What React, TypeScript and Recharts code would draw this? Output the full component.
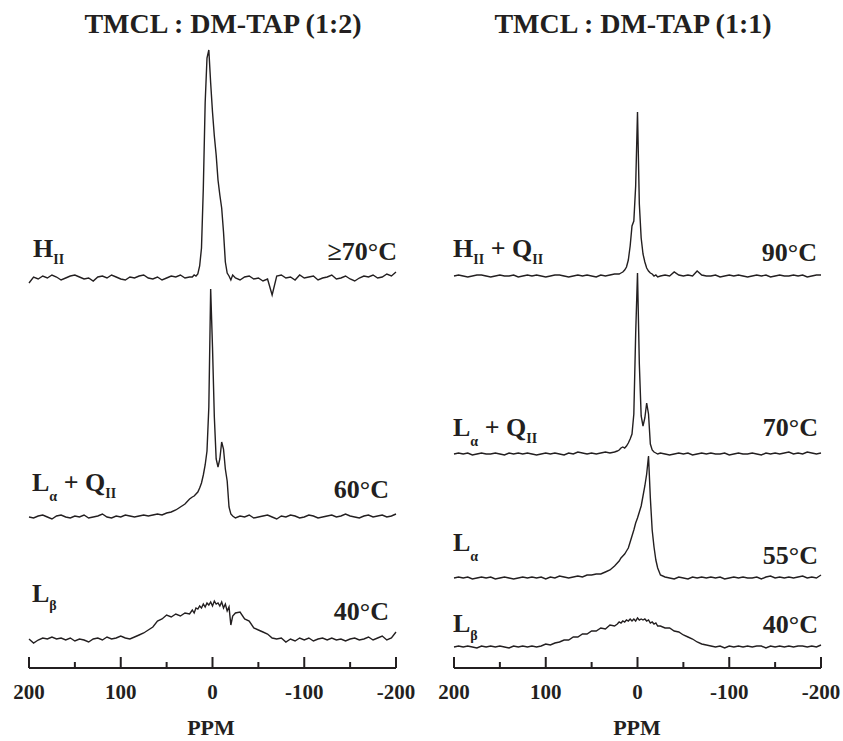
import { Line, LineChart, XAxis, YAxis } from 'recharts'

const INK = '#231f20'

// chemical shift grid (ppm), coarse on the wings, finer round the peaks
const PPM = [
  200, 195, 190, 185, 180, 175, 170, 165, 160, 155, 150, 145, 140, 135, 130, 125, 120, 115,
  110, 105, 100, 95, 90, 85, 80, 75, 70, 65, 60, 55, 50, 45, 40, 35, 30, 25,
  22, 20, 18, 16, 14, 12, 10, 8, 6, 4, 2, 0, -2, -4, -6, -8, -10, -12, -14, -16, -18, -20, -22,
  -25, -30, -35, -40, -45, -50, -55, -60, -65, -70, -75, -80, -85, -90, -95, -100, -105, -110,
  -115, -120, -125, -130, -135, -140, -145, -150, -155, -160, -165, -170, -175, -180, -185,
  -190, -195, -200,
]
const TICKS = [200, 150, 100, 50, 0, -50, -100, -150, -200]

// TMCL : DM-TAP (1:2)
const LEFT_70C = [
  -5, 1, -1, 2, 0, 3, 1, -2, 0, 2, 3, 1, -1, 0, -3, 1, 2, 0, 3, 1,
  -1, -2, 1, 0, 2, 3, 0, -1, 1, -2, 0, 2, 1, 3, 0, 1,
  1, 3, 2, 4, 12, 30, 90, 175, 220, 228, 195, 166, 142, 123, 98, 83, 70, 46, 16, 5, 2, -2, 3,
  0, -2, 1, 2, -1, 0, -3, -1, -17, 2, 3, 0, 1, -2, 3, 0, 1, 2, -2, 0,
  1, 3, -1, 0, 2, -1, -3, 0, 2, 1, 3, 0, 1, 4, 2, 6,
]
const LEFT_60C = [
  0, -1, 1, 2, 0, -2, 1, 2, 0, -1, 1, 0, 2, -1, 0, 1, 3, 0, -1, 1,
  0, 2, 1, 0, 1, 2, 1, 2, 3, 2, 4, 5, 7, 10, 13, 18,
  20, 21, 23, 25, 29, 34, 42, 52, 66, 110, 228, 170, 100, 58, 50, 58, 75, 68, 48, 36, 10, 3, 1,
  -1, 1, 0, 2, -1, 0, 1, 2, 0, -2, 1, 0, 2, 1, -1, 0, 2, 1, -1, 0,
  1, 2, 0, 1, 3, 1, 0, -1, 1, 2, 0, 1, 2, 0, 1, 3,
]
const LEFT_40C = [
  1, -3, 0, 2, 1, 3, 1, 2, 0, 2, -1, 1, 0, -2, 1, 2, 0, 3, 1, 2,
  4, 2, 1, 3, 5, 7, 10, 13, 19, 21, 25, 23, 26, 24, 27, 26,
  30, 27, 32, 31, 34, 32, 36, 33, 37, 35, 38, 34, 39, 36, 37, 34, 38, 32, 36, 29, 33, 15, 24,
  27, 28, 21, 19, 12, 10, 8, 6, 2, 1, 2, -2, 1, -1, 2, 0, 2, -1, 1, 2,
  0, 2, 0, 1, -1, 1, 2, 0, 1, 3, 0, 2, 4, 0, 2, 8,
]

// TMCL : DM-TAP (1:1)
const RIGHT_90C = [
  0, 1, 0, -1, 0, 1, 1, 0, -1, 0, 1, 0, 0, 1, -1, 0, 1, 0, 1, 0,
  -1, 0, 1, 1, 0, -1, 0, 1, 0, 1, 0, -1, 1, 0, 1, 2,
  2, 2, 3, 4, 6, 9, 16, 30, 50, 55, 90, 164, 72, 38, 22, 14, 8, 5, 3, 2, 0, 1, -1,
  0, 1, 0, 4, 1, 0, 1, 0, 5, 1, 0, 0, 1, -1, 0, 1, 0, 1, 0, -1,
  0, 1, 0, 1, -1, 0, 1, 0, 0, 1, 0, 1, -1, 0, 1, 1,
]
const RIGHT_70C = [
  0, 1, 0, 1, -1, 0, 1, 0, 0, 1, 0, -1, 1, 0, 1, 0, 1, 0, -1, 0,
  1, 0, 1, 0, -1, 1, 0, 2, 1, 0, 1, 0, 1, 2, 1, 2,
  3, 4, 6, 7, 6, 8, 11, 15, 20, 40, 120, 181, 90, 38, 28, 36, 51, 40, 10, 4, 2, 1, 0,
  1, 0, -1, 0, 1, 0, 1, -1, 0, 1, 0, 1, 0, 0, 1, -1, 0, 1, 0, 0,
  1, 0, -1, 1, 0, 1, 0, 1, 2, 0, 1, 0, 2, 1, 0, 1,
]
const RIGHT_55C = [
  0, 1, 0, 1, -1, 0, 1, 0, 1, -1, 0, 1, 0, -1, 0, 1, 0, 1, 0, 1,
  -1, 1, 0, 2, 1, 0, 1, 2, 1, 3, 3, 4, 4, 6, 8, 12,
  15, 17, 20, 22, 24, 27, 30, 36, 42, 48, 55, 60, 66, 72, 82, 92, 104, 122, 80, 48, 31, 18, 10,
  3, 1, 0, -1, 1, 0, -1, 1, 0, 1, 0, 1, 0, 1, -1, 0, 1, 0, 1, 0,
  0, 1, -1, 1, 2, 0, 1, 0, 1, 0, 1, 2, 0, 1, 0, 3,
]
const RIGHT_40C = [
  0, 1, 0, 1, 0, -1, 1, 0, 1, 0, 1, 0, -1, 1, 0, 1, 0, 1, 0, 1,
  3, 2, 4, 5, 7, 7, 10, 10, 13, 13, 16, 16, 19, 18, 22, 21,
  23, 25, 24, 26, 25, 27, 26, 28, 26, 28, 26, 29, 27, 28, 27, 28, 26, 27, 24, 25, 23, 24, 21,
  21, 19, 19, 16, 15, 12, 10, 8, 5, 3, 2, 1, 0, 1, -1, 1, 0, 1, 0, 1,
  0, 1, 1, -1, 1, 0, 1, 0, 1, 0, 1, 1, 0, 1, 0, 2,
]

// vertical stacking of the spectra
const LEFT_OFFSETS = [390, 151, 28]
const RIGHT_OFFSETS = [392, 214, 90, 21]

const leftRows = PPM.map((ppm, i) => ({
  ppm,
  s0: LEFT_OFFSETS[0] + LEFT_70C[i],
  s1: LEFT_OFFSETS[1] + LEFT_60C[i],
  s2: LEFT_OFFSETS[2] + LEFT_40C[i],
}))

const rightRows = PPM.map((ppm, i) => ({
  ppm,
  s0: RIGHT_OFFSETS[0] + RIGHT_90C[i],
  s1: RIGHT_OFFSETS[1] + RIGHT_70C[i],
  s2: RIGHT_OFFSETS[2] + RIGHT_55C[i],
  s3: RIGHT_OFFSETS[3] + RIGHT_40C[i],
}))

const serif = {
  fontFamily: '"Liberation Serif", "Times New Roman", serif',
  fontWeight: 700,
  fill: INK,
}

const PpmTick = (props: any) => {
  const { x, y, payload } = props
  const major = payload.value % 100 === 0
  return (
    <g>
      <line x1={x} x2={x} y1={y} y2={y - (major ? 11 : 6)} stroke={INK} strokeWidth={2} />
      {major && (
        <text x={x} y={y + 31} textAnchor='middle' style={{ ...serif, fontSize: 21 }}>
          {payload.value}
        </text>
      )}
    </g>
  )
}

function Panel({
  rows,
  keys,
  left,
  width,
  marginLeft,
  marginRight,
}: {
  rows: any[]
  keys: string[]
  left: number
  width: number
  marginLeft: number
  marginRight: number
}) {
  return (
    <div style={{ position: 'absolute', left, top: 0 }}>
      <LineChart
        width={width}
        height={741}
        data={rows}
        margin={{ top: 40, right: marginRight, bottom: 43, left: marginLeft }}
      >
        <XAxis
          dataKey='ppm'
          type='number'
          domain={[-200, 200]}
          reversed
          ticks={TICKS}
          interval={0}
          height={30}
          tickSize={0}
          tickMargin={0}
          tickLine={false}
          axisLine={{ stroke: INK, strokeWidth: 2 }}
          tick={PpmTick}
        />
        <YAxis hide type='number' domain={[0, 628]} allowDataOverflow />
        {keys.map((k) => (
          <Line
            key={k}
            dataKey={k}
            type='linear'
            stroke={INK}
            strokeWidth={1.4}
            dot={false}
            isAnimationActive={false}
          />
        ))}
      </LineChart>
    </div>
  )
}

const sub = { fontSize: 14 }

export default function App() {
  const label = { ...serif, fontSize: 26 }
  return (
    <div style={{ position: 'absolute', left: 0, top: 0, width: 843, height: 741, background: '#fff' }}>
      <Panel rows={leftRows} keys={['s0', 's1', 's2']} left={0} width={421} marginLeft={29} marginRight={25} />
      <Panel rows={rightRows} keys={['s0', 's1', 's2', 's3']} left={421} width={422} marginLeft={33} marginRight={22} />
      <svg width={843} height={741} style={{ position: 'absolute', left: 0, top: 0, pointerEvents: 'none' }}>
        <text x={223} y={33} textAnchor='middle' style={{ ...serif, fontSize: 28 }}>TMCL : DM-TAP (1:2)</text>
        <text x={633} y={33} textAnchor='middle' style={{ ...serif, fontSize: 28 }}>TMCL : DM-TAP (1:1)</text>

        <text x={33} y={257} style={label}>
          H<tspan dy={7} style={sub}>II</tspan>
        </text>
        <text x={397} y={260} textAnchor='end' style={label}>≥70°C</text>
        <text x={32} y={491} style={label}>
          L<tspan dy={10} style={sub}>α</tspan>
          <tspan dy={-10}>{' + Q'}</tspan>
          <tspan dy={7} style={sub}>II</tspan>
        </text>
        <text x={389} y={498} textAnchor='end' style={label}>60°C</text>
        <text x={32} y={602} style={label}>
          L<tspan dy={8} style={sub}>β</tspan>
        </text>
        <text x={389} y={620} textAnchor='end' style={label}>40°C</text>

        <text x={453} y={257} style={label}>
          H<tspan dy={7} style={sub}>II</tspan>
          <tspan dy={-7}>{' + Q'}</tspan>
          <tspan dy={7} style={sub}>II</tspan>
        </text>
        <text x={817} y={261} textAnchor='end' style={label}>90°C</text>
        <text x={453} y={436} style={label}>
          L<tspan dy={10} style={sub}>α</tspan>
          <tspan dy={-10}>{' + Q'}</tspan>
          <tspan dy={7} style={sub}>II</tspan>
        </text>
        <text x={818} y={436} textAnchor='end' style={label}>70°C</text>
        <text x={453} y={551} style={label}>
          L<tspan dy={10} style={sub}>α</tspan>
        </text>
        <text x={818} y={564} textAnchor='end' style={label}>55°C</text>
        <text x={453} y={632} style={label}>
          L<tspan dy={8} style={sub}>β</tspan>
        </text>
        <text x={818} y={633} textAnchor='end' style={label}>40°C</text>

        <text x={211} y={735} textAnchor='middle' style={{ ...serif, fontSize: 22 }}>PPM</text>
        <text x={637} y={735} textAnchor='middle' style={{ ...serif, fontSize: 22 }}>PPM</text>
      </svg>
    </div>
  )
}
